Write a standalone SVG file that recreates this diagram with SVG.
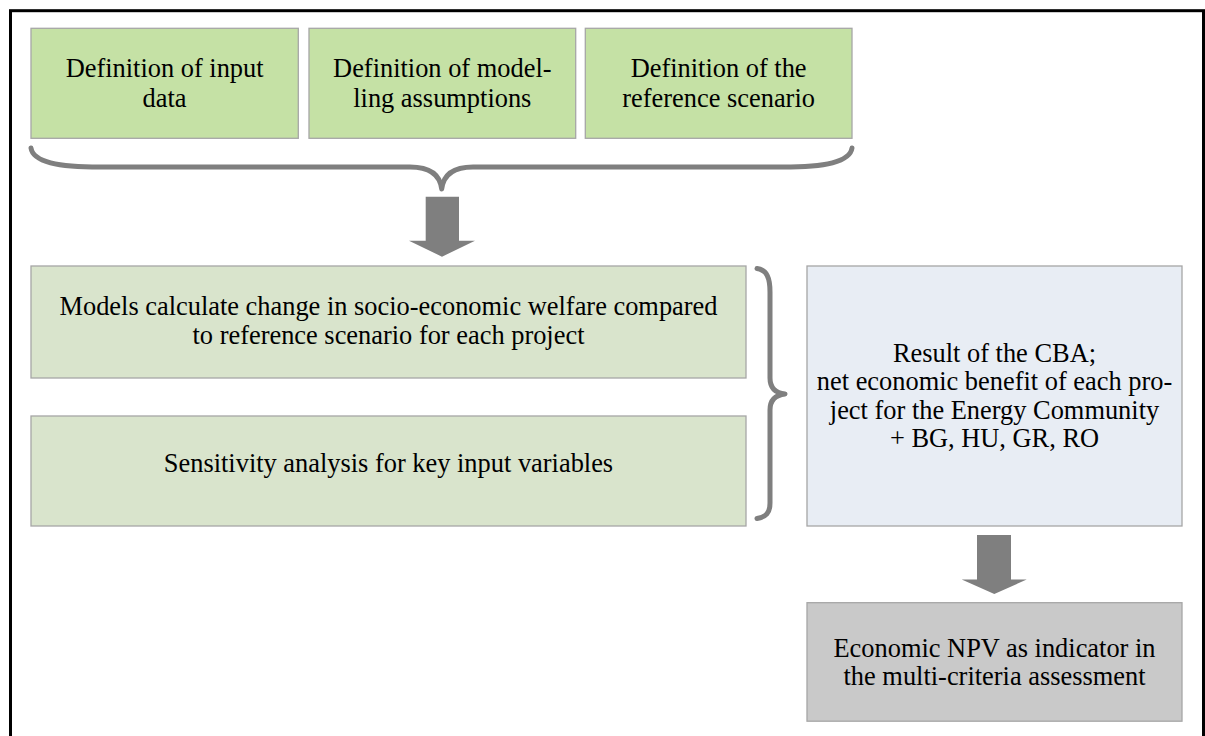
<svg xmlns="http://www.w3.org/2000/svg" width="1205" height="736" viewBox="0 0 1205 736">
<style>
.t{font-family:"Liberation Serif","Times New Roman",serif;font-size:26.4px;fill:#000;text-anchor:middle}
.box{stroke:#a6a6a6;stroke-width:1.3}
.g1{fill:#c5e1a5}
.g2{fill:#d9e4cc}
.b{fill:#e8edf4}
.gr{fill:#c9c9c9}
.brace{fill:none;stroke:#7f7f7f;stroke-width:5;stroke-linecap:round;stroke-linejoin:round}
.arr{fill:#7f7f7f}
</style>
<rect x="0" y="0" width="1205" height="736" fill="#fff"/>
<rect x="10.5" y="10.7" width="1193" height="780" fill="none" stroke="#000" stroke-width="3"/>
<g id="n1"><rect class="box g1" x="31" y="28.3" width="267.3" height="110"/><text class="t" x="164.6" y="77.3">Definition of input</text><text class="t" x="164.6" y="107.3">data</text></g>
<g id="n2"><rect class="box g1" x="309" y="28.3" width="266.7" height="110"/><text class="t" x="442.3" y="77.3">Definition of model-</text><text class="t" x="442.3" y="107.3">ling assumptions</text></g>
<g id="n3"><rect class="box g1" x="585.3" y="28.3" width="266.7" height="110"/><text class="t" x="718.6" y="77.3">Definition of the</text><text class="t" x="718.6" y="107.3">reference scenario</text></g>
<g id="n4"><rect class="box g2" x="31" y="266" width="715" height="112"/><text class="t" x="388.5" y="314.5">Models calculate change in socio-economic welfare compared</text><text class="t" x="388.5" y="344">to reference scenario for each project</text></g>
<g id="n5"><rect class="box g2" x="31" y="416" width="715" height="110"/><text class="t" x="388.5" y="472">Sensitivity analysis for key input variables</text></g>
<g id="n6"><rect class="box b" x="807" y="266" width="375" height="260"/><text class="t" x="994.5" y="362">Result of the CBA;</text><text class="t" x="994.5" y="390.3">net economic benefit of each pro-</text><text class="t" x="994.5" y="418.6">ject for the Energy Community</text><text class="t" x="994.5" y="447">+ BG, HU, GR, RO</text></g>
<g id="n7"><rect class="box gr" x="807" y="602.7" width="375" height="118.5"/><text class="t" x="994.5" y="656.7">Economic NPV as indicator in</text><text class="t" x="994.5" y="685">the multi-criteria assessment</text></g>
<g id="connectors">
<path class="brace" d="M31,148 C33,162 58,167 100,167 L410,167 C430,167 440,175 441.7,189 C443.4,175 453,167 473,167 L783,167 C825,167 850,162 852,148"/>
<path class="brace" d="M757,268.5 C767,270 770,278 770,292 L770,378 C770,388 776,393 785,394 C776,395 770,400 770,410 L770,503 C770,513 766,517 757,518.5"/>
<polygon class="arr" points="425.7,196.7 459,196.7 459,240.7 475,240.7 442,256.7 409,240.7 425.7,240.7"/>
<polygon class="arr" points="977,535 1011,535 1011,579.5 1026.7,579.5 994.3,594 961.7,579.5 977,579.5"/>
</g>
</svg>
